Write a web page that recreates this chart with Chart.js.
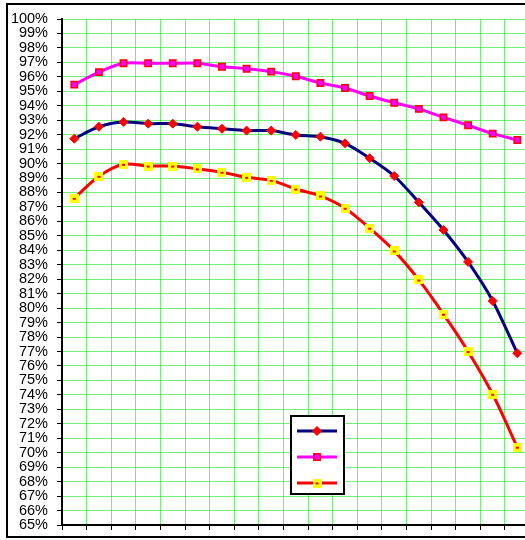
<!DOCTYPE html>
<html>
<head>
<meta charset="utf-8">
<script src="https://cdn.jsdelivr.net/npm/chart.js@4/dist/chart.umd.min.js"></script>
<style>
    html, body { margin: 0; padding: 0; background: #fff; overflow: hidden; }
    #frame {
        position: absolute;
        left: 6px;
        top: 3px;
        width: 540px;
        height: 531px;
        border: 2px solid #000;
    }
    canvas { display: block; }
</style>
</head>
<body>
<div id="frame"><canvas id="myChart" width="540" height="531"></canvas></div>
<script>
const categories = ['1', '2', '3', '4', '5', '6', '7', '8', '9', '10',
    '11', '12', '13', '14', '15', '16', '17', '18', '19'];

const navySeries = [91.72, 92.55, 92.88, 92.76, 92.76, 92.55, 92.41, 92.28, 92.28, 91.98,
    91.86, 91.40, 90.37, 89.14, 87.32, 85.41, 83.20, 80.50, 76.88];

const magentaSeries = [95.46, 96.33, 96.94, 96.94, 96.94, 96.94, 96.70, 96.56, 96.36, 96.04,
    95.57, 95.23, 94.67, 94.21, 93.78, 93.20, 92.65, 92.07, 91.63];

const redSeries = [87.60, 89.12, 89.95, 89.83, 89.83, 89.63, 89.40, 89.05, 88.84, 88.24,
    87.76, 86.91, 85.53, 83.96, 81.95, 79.58, 77.00, 74.04, 70.38];

const yMin = 65;
const yMax = 100;

// yellow square marker with a small red centre
const yellowMark = document.createElement('canvas');
yellowMark.width = 9;
yellowMark.height = 9;
(function () {
    const c = yellowMark.getContext('2d');
    c.fillStyle = '#ffff00';
    c.fillRect(0, 0, 9, 9);
    c.fillStyle = '#ff0000';
    c.fillRect(3, 4, 3, 2);
})();

const legendBox = {
    id: 'legendBox',
    afterDraw(chart) {
        const ctx = chart.ctx;
        const a = chart.chartArea;
        const bx = a.left + 229, by = a.top + 397, bw = 53, bh = 78;
        ctx.save();
        ctx.fillStyle = '#fff';
        ctx.fillRect(bx, by, bw, bh);
        ctx.strokeStyle = '#000';
        ctx.lineWidth = 2;
        ctx.strokeRect(bx, by, bw, bh);
        chart.data.datasets.forEach((ds, i) => {
            const ly = by + 15 + i * 26;
            ctx.strokeStyle = ds.borderColor;
            ctx.lineWidth = ds.borderWidth;
            ctx.beginPath();
            ctx.moveTo(bx + 6, ly);
            ctx.lineTo(bx + 46, ly);
            ctx.stroke();
            ctx.fillStyle = ds.pointBackgroundColor;
            ctx.strokeStyle = ds.pointBorderColor;
            ctx.lineWidth = ds.pointBorderWidth;
            Chart.helpers.drawPoint(ctx, {
                pointStyle: ds.pointStyle,
                radius: ds.pointRadius,
                borderWidth: ds.pointBorderWidth,
                rotation: 0
            }, bx + 26, ly);
        });
        ctx.restore();
    }
};

const data = {
    labels: categories,
    datasets: [{
        label: '',
        data: navySeries,
        borderColor: '#000080',
        borderWidth: 3,
        tension: 0.3,
        pointStyle: 'rectRot',
        pointRadius: 4.5,
        pointBackgroundColor: '#ff0000',
        pointBorderColor: '#ff0000',
        pointBorderWidth: 1
    }, {
        label: '',
        data: magentaSeries,
        borderColor: '#ff00ff',
        borderWidth: 3,
        tension: 0.3,
        pointStyle: 'rect',
        pointRadius: 4.5,
        pointBackgroundColor: '#ff00ff',
        pointBorderColor: '#ff0000',
        pointBorderWidth: 1.5
    }, {
        label: '',
        data: redSeries,
        borderColor: '#ff0000',
        borderWidth: 3,
        tension: 0.3,
        pointStyle: yellowMark,
        pointRadius: 5,
        pointBackgroundColor: '#ffff00',
        pointBorderColor: '#ffff00',
        pointBorderWidth: 0
    }]
};

const config = {
    type: 'line',
    data,
    options: {
        responsive: false,
        animation: false,
        layout: {
            padding: { left: 0, top: 14, right: 18.4, bottom: 0 }
        },
        plugins: {
            legend: { display: false },
            tooltip: { enabled: false }
        },
        scales: {
            x: {
                offset: true,
                grid: {
                    offset: true,
                    color: 'rgba(0, 225, 0, 0.55)',
                    tickColor: '#000',
                    tickLength: 5,
                    lineWidth: 1
                },
                border: { color: '#000', width: 2 },
                ticks: { display: false, autoSkip: false },
                afterFit(scale) { scale.height = 11; }
            },
            y: {
                min: yMin,
                max: yMax,
                grid: {
                    color: 'rgba(0, 225, 0, 0.55)',
                    tickColor: '#000',
                    tickLength: 5,
                    lineWidth: 1
                },
                border: { color: '#000', width: 2 },
                ticks: {
                    stepSize: 1,
                    autoSkip: false,
                    padding: 9,
                    color: '#000',
                    font: { family: "'Liberation Sans', Arial, sans-serif", size: 14.5 },
                    callback: v => v + '%'
                },
                afterFit(scale) {
                    scale.width = 54;
                    scale.paddingTop = 0;
                    scale.paddingBottom = 0;
                }
            }
        }
    },
    plugins: [legendBox]
};

var myChart = new Chart(
    document.getElementById('myChart'),
    config
);
</script>
</body>
</html>
